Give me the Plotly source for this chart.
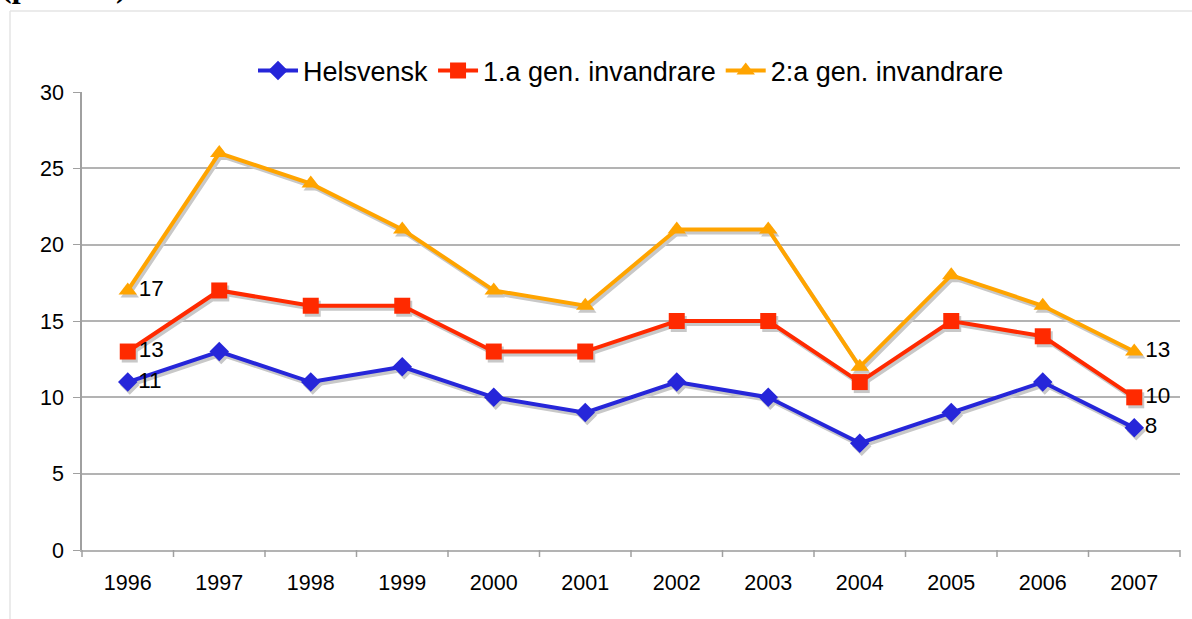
import plotly.graph_objects as go

years = ["1996", "1997", "1998", "1999", "2000", "2001", "2002", "2003", "2004", "2005", "2006", "2007"]
helsvensk = [11, 13, 11, 12, 10, 9, 11, 10, 7, 9, 11, 8]
gen1 = [13, 17, 16, 16, 13, 13, 15, 15, 11, 15, 14, 10]
gen2 = [17, 26, 24, 21, 17, 16, 21, 21, 12, 18, 16, 13]
names = ["Helsvensk", "1.a gen. invandrare", "2:a gen. invandrare"]
y_ticks = [0, 5, 10, 15, 20, 25, 30]

colors = ["#2626d9", "#ff2a00", "#ffa400"]
symbols = ["diamond", "square", "triangle-up"]
sizes = [15, 16, 16]
series = [helsvensk, gen1, gen2]

W, H = 1192, 619
L, R, T, B = 82, 12, 92, 69
pw, ph = W - L - R, H - T - B
xidx = list(range(len(years)))

fig = go.Figure()

# invisible trace so the base axes (grid, ticks) are drawn
fig.add_trace(go.Scatter(x=xidx, y=helsvensk, mode="markers", marker=dict(opacity=0),
                         showlegend=False, hoverinfo="skip"))

# shadows (on offset overlay axes x2/y2, drawn beneath x3/y3)
for s, sym, sz in zip(series, symbols, sizes):
    fig.add_trace(go.Scatter(
        x=xidx, y=s, mode="lines+markers", xaxis="x2", yaxis="y2",
        line=dict(color="#c8c8c8", width=4),
        marker=dict(symbol=sym, size=sz, color="#c8c8c8"),
        showlegend=False, hoverinfo="skip"))

for s, n, c, sym, sz in zip(series, names, colors, symbols, sizes):
    txt = [str(s[0])] + [""] * (len(s) - 2) + [str(s[-1])]
    fig.add_trace(go.Scatter(
        x=xidx, y=s, name=n, mode="lines+markers+text", xaxis="x3", yaxis="y3",
        text=txt, textposition="middle right",
        textfont=dict(family="Liberation Sans, Arial", size=22.5, color="black"),
        line=dict(color=c, width=4),
        marker=dict(symbol=sym, size=sz, color=c)))

dx = 2.0 / (pw / 12.0)
dy = 3.0 / (ph / 30.0)

fig.update_layout(
    template="none",
    width=W, height=H,
    margin=dict(l=L, r=R, t=T, b=B, autoexpand=False),
    paper_bgcolor="white", plot_bgcolor="white",
    font=dict(family="Liberation Sans, Arial", size=22, color="black"),
    showlegend=True,
    legend=dict(orientation="h", x=0.5, xanchor="center", y=1 + 21 / ph, yanchor="middle",
                font=dict(size=27), itemwidth=40, tracegroupgap=0, bgcolor="rgba(0,0,0,0)"),
    xaxis=dict(range=[-0.5, 11.5], tickmode="array", tickvals=xidx, ticktext=years,
               showgrid=False, zeroline=False, showline=True, linecolor="#b3b3b3", linewidth=1.5,
               ticks="", ticklen=0, tickfont=dict(size=21.5), ticklabelstandoff=12,
               automargin=False),
    xaxis2=dict(range=[-0.5 - dx, 11.5 - dx], overlaying="x", visible=False),
    xaxis3=dict(range=[-0.5, 11.5], overlaying="x", visible=False),
    yaxis=dict(range=[0, 30], tickmode="array", tickvals=y_ticks, showgrid=True,
               gridcolor="#b3b3b3", gridwidth=1.5, zeroline=False, showline=True,
               linecolor="#a0a0a0", linewidth=1.5, ticks="outside", ticklen=7,
               tickcolor="#a0a0a0", tickfont=dict(size=21.5), ticklabelstandoff=5,
               automargin=False),
    yaxis2=dict(range=[0 + dy, 30 + dy], overlaying="y", visible=False),
    yaxis3=dict(range=[0, 30], overlaying="y", visible=False),
)

# category boundary ticks below x axis
shapes = []
for i in range(13):
    xp = i / 12.0
    shapes.append(dict(type="line", xref="paper", yref="paper", x0=xp, x1=xp,
                       y0=0, y1=-7 / ph, line=dict(color="#a0a0a0", width=1.5)))
# outer chart frame
shapes.append(dict(type="line", xref="paper", yref="paper",
                   x0=(10 - L) / pw, x1=(W - L) / pw, y0=1 + (T - 11) / ph, y1=1 + (T - 11) / ph,
                   line=dict(color="#e4e4e4", width=1.5)))
shapes.append(dict(type="line", xref="paper", yref="paper",
                   x0=(10 - L) / pw, x1=(10 - L) / pw, y0=1 + (T - 11) / ph, y1=-B / ph,
                   line=dict(color="#e4e4e4", width=1.5)))
fig.update_layout(shapes=shapes)

fig.add_annotation(text="<b>(procent)</b>", xref="paper", yref="paper",
                   x=-L / pw, xanchor="left", y=1 + (T - 5) / ph, yanchor="bottom",
                   showarrow=False, font=dict(family="Liberation Serif, Times New Roman", size=32),
                   borderpad=0)

fig.write_html("out.html", config={"displayModeBar": False},
               post_script="document.body.style.margin='0';")
